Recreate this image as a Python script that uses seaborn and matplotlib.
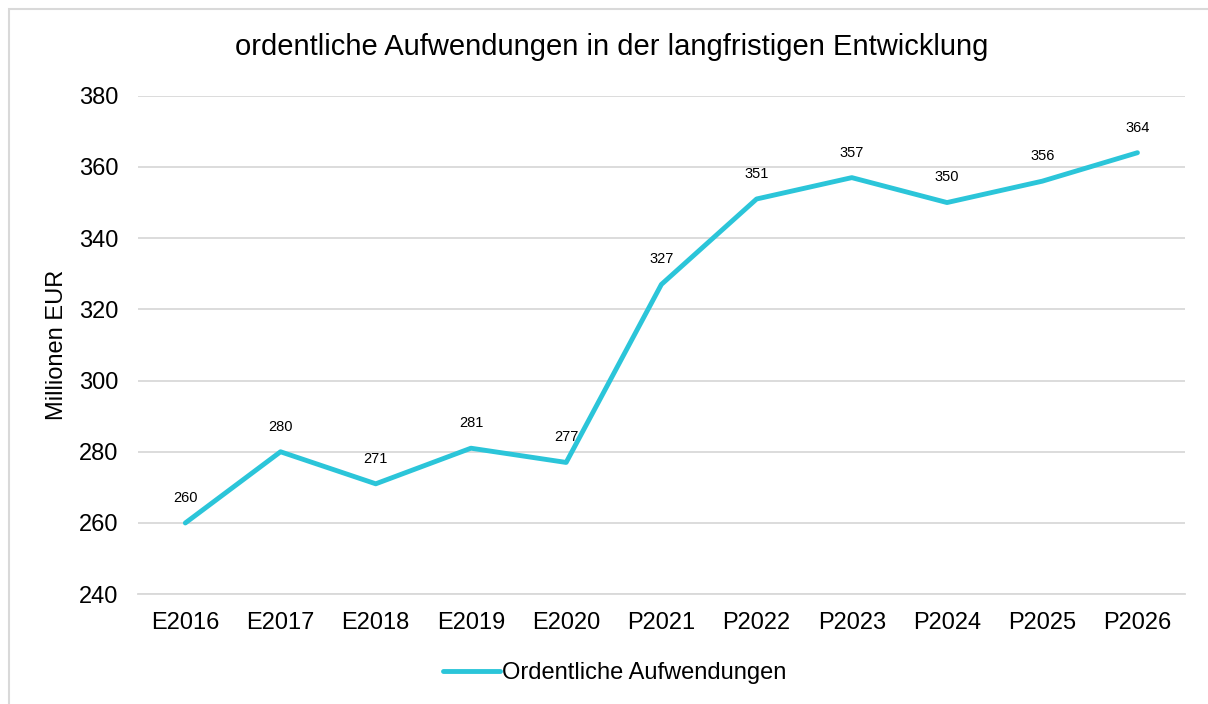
import pandas as pd
import matplotlib.pyplot as plt
import seaborn as sns
from matplotlib.patches import Rectangle

jahre = ['E2016', 'E2017', 'E2018', 'E2019', 'E2020', 'P2021', 'P2022', 'P2023', 'P2024', 'P2025', 'P2026']
aufwendungen = [260, 280, 271, 281, 277, 327, 351, 357, 350, 356, 364]

df = pd.DataFrame({'Jahr': jahre, 'Wert': aufwendungen})
df['pos'] = range(len(df))

sns.set_style('white')
plt.rcParams['font.family'] = ['Liberation Sans', 'DejaVu Sans']
plt.rcParams['text.color'] = 'black'
plt.rcParams['axes.labelcolor'] = 'black'
plt.rcParams['xtick.color'] = 'black'
plt.rcParams['ytick.color'] = 'black'

fig = plt.figure(figsize=(12.08, 7.04), dpi=100)
ax = fig.add_axes([0.114, 0.156, 0.867, 0.708])

farbe = '#2BC5D9'
sns.lineplot(data=df, x='pos', y='Wert', ax=ax, color=farbe, linewidth=3.5,
             label='Ordentliche Aufwendungen', legend=False)

# Datenbeschriftungen
for i, v in zip(df['pos'], df['Wert']):
    ax.annotate(str(v), (i, v), xytext=(0, 13), textcoords='offset points',
                ha='center', va='bottom', fontsize=10.5, color='black')

ax.set_xlim(-0.5, len(jahre) - 0.5)
ax.set_ylim(240, 380)
ax.set_yticks(range(240, 381, 20))
ax.set_xticks(df['pos'])
ax.set_xticklabels(jahre)
ax.tick_params(axis='both', labelsize=17, length=0)
ax.tick_params(axis='y', pad=14)
ax.tick_params(axis='x', pad=13)
ax.grid(axis='y', color='#D9D9D9', linewidth=1.3)
ax.set_axisbelow(True)
for s in ['top', 'right', 'left']:
    ax.spines[s].set_visible(False)
ax.spines['bottom'].set_color('#D9D9D9')
ax.spines['bottom'].set_linewidth(1.3)

ax.set_xlabel('')
ax.set_ylabel('Millionen EUR', fontsize=17, labelpad=8)
fig.text(0.506, 0.933, 'ordentliche Aufwendungen in der langfristigen Entwicklung',
         ha='center', va='center', fontsize=21)

handles, labels = ax.get_legend_handles_labels()
fig.legend(handles, labels, loc='center', bbox_to_anchor=(615 / 1208, 1 - 673 / 704),
           frameon=False, fontsize=17, handlelength=2.4, handletextpad=0.1)

# Rahmen um das Diagramm
fig.patches.append(Rectangle((9 / 1208, -0.01), 1.1, 1 - 9 / 704 + 0.01, transform=fig.transFigure,
                             fill=False, edgecolor='#D9D9D9', linewidth=1.5))

fig.savefig('out.png', dpi=100, facecolor='white')
